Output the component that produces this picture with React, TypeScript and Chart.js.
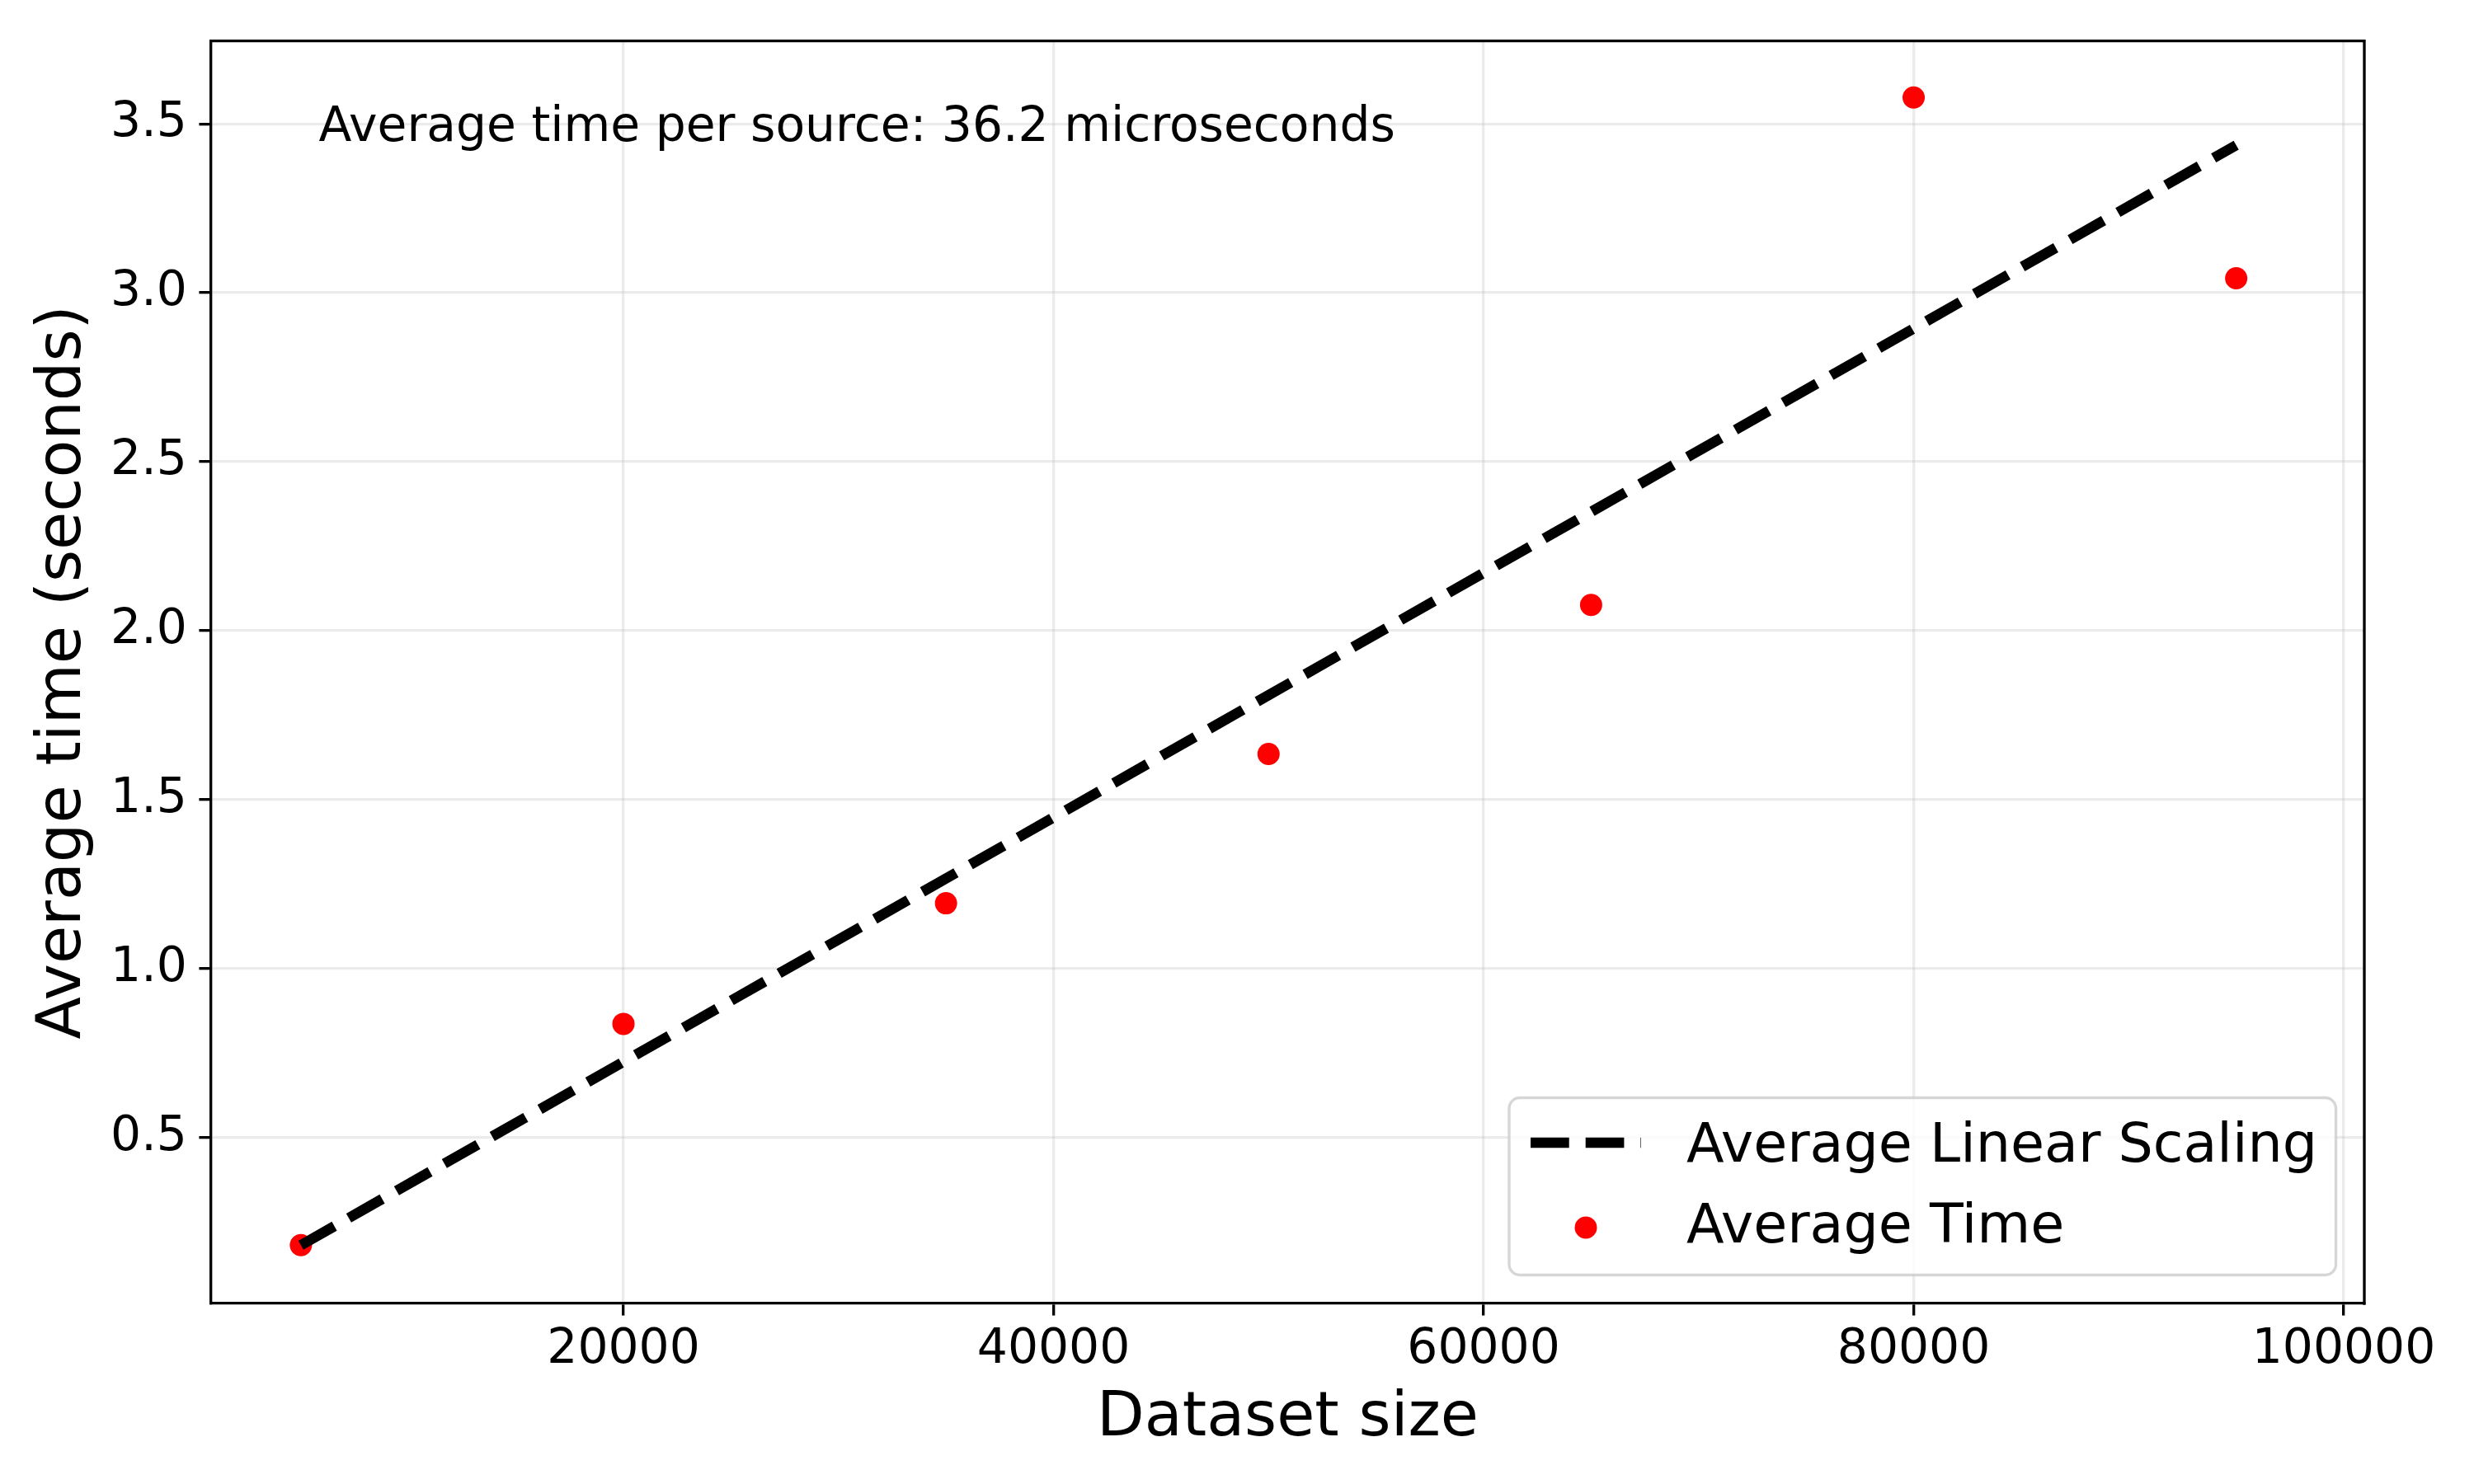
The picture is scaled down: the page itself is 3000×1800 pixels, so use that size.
import React, { useEffect, useRef } from 'react';
import { Chart, registerables } from 'chart.js';

Chart.register(...registerables);

// ---- data ----
const datasetSizes = [5000, 20000, 35000, 50000, 65000, 80000, 95000];
const averageTimes = [0.181, 0.836, 1.193, 1.635, 2.076, 3.578, 3.043];
const scalingX = [5000, 95000];
const scalingY = [0.181, 3.437];
const xTicks = [20000, 40000, 60000, 80000, 100000];
const yTicks = [0.5, 1.0, 1.5, 2.0, 2.5, 3.0, 3.5];
const annotationText = 'Average time per source: 36.2 microseconds';
const legendLabels = ['Average Linear Scaling', 'Average Time'];
const xTitle = 'Dataset size';
const yTitle = 'Average time (seconds)';

const FONT = '"DejaVu Sans"';
const LW = 3.33;
const DASH = [46.7, 20];
const GRID = 'rgba(176,176,176,0.26)';

const overlayPlugin = {
  id: 'overlay',
  afterDraw(chart: any) {
    const { ctx, chartArea: a } = chart;
    ctx.save();
    // top/right spines
    ctx.strokeStyle = '#000';
    ctx.lineWidth = LW;
    ctx.lineCap = 'square';
    ctx.beginPath();
    ctx.moveTo(a.left, a.top);
    ctx.lineTo(a.right, a.top);
    ctx.lineTo(a.right, a.bottom);
    ctx.stroke();

    // annotation
    ctx.font = `58.3px ${FONT}`;
    ctx.fillStyle = '#000';
    ctx.textAlign = 'left';
    ctx.textBaseline = 'alphabetic';
    ctx.fillText(annotationText, a.left + 0.05 * (a.right - a.left), a.top + 0.05 * (a.bottom - a.top) + 45);

    // legend
    const bx1 = a.right - 34.5;
    const by1 = a.bottom - 34.5;
    const bx0 = bx1 - 1002.5;
    const by0 = by1 - 215;
    ctx.beginPath();
    (ctx as any).roundRect(bx0, by0, bx1 - bx0, by1 - by0, 13);
    ctx.fillStyle = 'rgba(255,255,255,0.8)';
    ctx.fill();
    ctx.strokeStyle = 'rgba(204,204,204,0.8)';
    ctx.lineWidth = LW;
    ctx.stroke();

    // line sample
    ctx.beginPath();
    ctx.setLineDash(DASH);
    ctx.lineCap = 'butt';
    ctx.strokeStyle = '#000';
    ctx.lineWidth = 12.5;
    ctx.moveTo(bx0 + 26, by0 + 54.5);
    ctx.lineTo(bx0 + 160, by0 + 54.5);
    ctx.stroke();
    ctx.setLineDash([]);

    // marker sample
    ctx.beginPath();
    ctx.fillStyle = '#ff0000';
    ctx.arc(bx0 + 93, by0 + 157.5, 13.5, 0, Math.PI * 2);
    ctx.fill();

    ctx.fillStyle = '#000';
    ctx.font = `66.7px ${FONT}`;
    ctx.textAlign = 'left';
    ctx.textBaseline = 'alphabetic';
    ctx.fillText(legendLabels[0], bx0 + 215, by0 + 77.5);
    ctx.fillText(legendLabels[1], bx0 + 215, by0 + 175);
    ctx.restore();
  },
};

export default function App() {
  const ref = useRef<HTMLCanvasElement | null>(null);
  useEffect(() => {
    document.body.style.margin = '0';
    const canvas = ref.current!;
    const chart = new Chart(canvas, {
      type: 'scatter',
      data: {
        datasets: [
          {
            type: 'line',
            label: legendLabels[0],
            data: scalingX.map((x, i) => ({ x, y: scalingY[i] })),
            borderColor: '#000',
            borderWidth: 12.5,
            borderDash: DASH,
            borderCapStyle: 'butt',
            pointRadius: 0,
            fill: false,
            order: 0,
          } as any,
          {
            type: 'scatter',
            label: legendLabels[1],
            data: datasetSizes.map((x, i) => ({ x, y: averageTimes[i] })),
            backgroundColor: '#ff0000',
            borderWidth: 0,
            pointRadius: 13.5,
            order: 1,
          },
        ],
      },
      options: {
        animation: false,
        responsive: false,
        devicePixelRatio: 1,
        layout: { padding: { left: 0, top: 45, right: 133, bottom: 0 } },
        plugins: { legend: { display: false }, tooltip: { enabled: false } },
        scales: {
          x: {
            type: 'linear',
            min: 824,
            max: 100958,
            z: 1,
            afterFit: (s: any) => { s.height = 219; },
            afterBuildTicks: (s: any) => { s.ticks = xTicks.map((v) => ({ value: v })); },
            grid: {
              color: GRID,
              lineWidth: LW,
              tickColor: '#000',
              tickWidth: LW,
              tickLength: 14.6,
            },
            border: { color: '#000', width: LW },
            ticks: {
              font: { family: FONT, size: 58.3 },
              color: '#000',
              padding: 7.4,
              maxRotation: 0,
              callback: (v: any) => String(v),
            },
            title: {
              display: true,
              text: xTitle,
              font: { family: FONT, size: 75 },
              color: '#000',
              padding: { top: 0, bottom: 33 },
            },
          },
          y: {
            type: 'linear',
            min: 0.0085,
            max: 3.7457,
            z: 1,
            afterFit: (s: any) => { s.width = 256; },
            afterBuildTicks: (s: any) => { s.ticks = yTicks.map((v) => ({ value: v })); },
            grid: {
              color: GRID,
              lineWidth: LW,
              tickColor: '#000',
              tickWidth: LW,
              tickLength: 14.6,
            },
            border: { color: '#000', width: LW },
            ticks: {
              font: { family: FONT, size: 58.3 },
              color: '#000',
              padding: 14.6,
              callback: (v: any) => Number(v).toFixed(1),
            },
            title: {
              display: true,
              text: yTitle,
              font: { family: FONT, size: 75 },
              color: '#000',
              padding: { top: 32.7, bottom: 0 },
            },
          },
        },
      },
      plugins: [overlayPlugin],
    });
    return () => chart.destroy();
  }, []);
  return (
    <div style={{ width: 3000, height: 1800, background: '#fff' }}>
      <canvas ref={ref} width={3000} height={1800} style={{ display: 'block', width: 3000, height: 1800 }} />
    </div>
  );
}
